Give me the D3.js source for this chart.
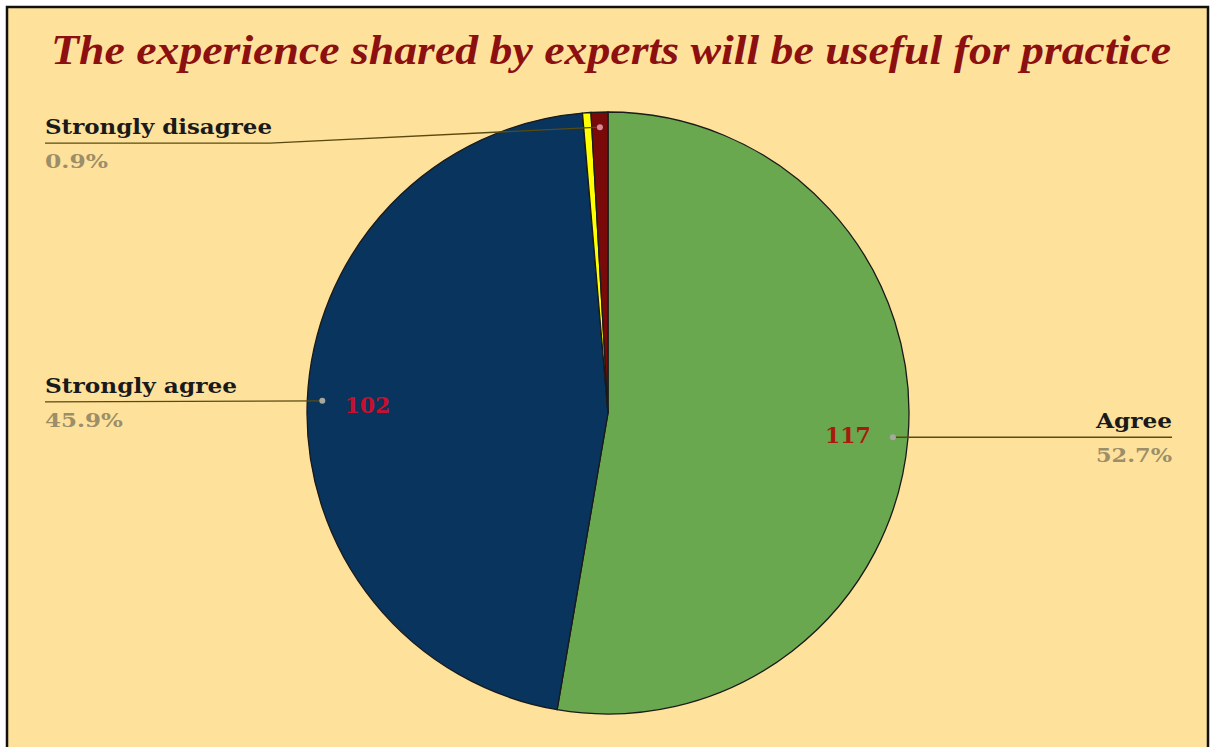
<!DOCTYPE html>
<html><head><meta charset="utf-8">
<script src="https://cdn.jsdelivr.net/npm/d3@7"></script>
<style>html,body{margin:0;padding:0;background:#fff;}svg{display:block;}</style>
</head><body>
<script>
const categories = ["Agree", "Strongly agree", "Disagree", "Strongly disagree"];
const values = [117, 102, 1, 2];
const colors = ["#6aa84f", "#08345e", "#ffff00", "#7a0a0a"];
const showLabel = [true, true, false, true];
const labelWidths = [76, 192, 0, 227];
const pctWidths = [76, 78, 0, 63];
const title = "The experience shared by experts will be useful for practice";

const W = 1212, H = 747;
const svg = d3.select("body").append("svg").attr("width", W).attr("height", H);
svg.append("rect").attr("x", 0).attr("y", 0).attr("width", W).attr("height", H).attr("fill", "#ffffff");
svg.append("rect").attr("x", 7).attr("y", 7).attr("width", 1201).attr("height", 760)
  .attr("fill", "#fee29c").attr("stroke", "#111").attr("stroke-width", 2.5);

svg.append("text").attr("x", 611).attr("y", 64).attr("text-anchor", "middle")
  .attr("font-family", "Liberation Serif, serif").attr("font-weight", "bold").attr("font-style", "italic")
  .attr("font-size", 42).attr("fill", "#8c1010")
  .attr("textLength", 1120).attr("lengthAdjust", "spacingAndGlyphs").text(title);

const cx = 608, cy = 413, r = 301;
const total = d3.sum(values);
const data = categories.map((c, i) => ({cat: c, value: values[i], color: colors[i], show: showLabel[i], lw: labelWidths[i], pw: pctWidths[i]}));
const pie = d3.pie().value(d => d.value).sort(null);
const arcs = pie(data);
const arc = d3.arc().innerRadius(0).outerRadius(r);
const g = svg.append("g").attr("transform", `translate(${cx},${cy})`);
g.selectAll("path").data(arcs).join("path").attr("d", arc)
  .attr("fill", d => d.data.color).attr("stroke", "#1a1a1a").attr("stroke-width", 1.3);

const pt = (a, rr) => [Math.sin(a) * rr, -Math.cos(a) * rr];
const fmt = d3.format(".1f");

// value labels
arcs.forEach(a => {
  if (a.data.value < 10) return;
  const m = (a.startAngle + a.endAngle) / 2;
  const p = pt(m, r * 0.8);
  g.append("text").attr("x", p[0]).attr("y", p[1] + 4).attr("text-anchor", "middle")
    .attr("dominant-baseline", "middle")
    .attr("font-family", "DejaVu Serif, serif").attr("font-weight", "bold").attr("font-size", 22)
    .attr("textLength", 46).attr("lengthAdjust", "spacingAndGlyphs")
    .attr("fill", a.index === 0 ? "#a81b0c" : "#c8102e").text(a.data.value);
});

// outside labels with leaders
arcs.forEach(a => {
  if (!a.data.show) return;
  const m = (a.startAngle + a.endAngle) / 2;
  const p = pt(m, r * 0.95);
  const ax = cx + p[0], ay = cy + p[1];
  const right = p[0] > 0;
  const ly = right ? ay : (a.data.value < 10 ? ay + 16 : ay + 1);
  const x0 = right ? 1172 : 45;
  const pts = right ? [[ax, ay], [x0, ly]]
    : (a.data.value < 10 ? [[ax, ay], [270, ly], [x0, ly]] : [[ax, ay], [x0, ly]]);
  svg.append("path").attr("d", d3.line()(pts)).attr("fill", "none")
    .attr("stroke", "#5a4a10").attr("stroke-width", 1.3);
  svg.append("circle").attr("cx", ax).attr("cy", ay).attr("r", 3)
    .attr("fill", a.data.value < 10 ? "#d88a9a" : "#a8a8a0");
  svg.append("text").attr("x", x0).attr("y", ly - 9).attr("text-anchor", right ? "end" : "start")
    .attr("font-family", "DejaVu Serif, serif").attr("font-weight", "bold").attr("font-size", 20)
    .attr("textLength", a.data.lw).attr("lengthAdjust", "spacingAndGlyphs")
    .attr("fill", "#1a1a1a").text(a.data.cat);
  svg.append("text").attr("x", x0).attr("y", ly + 25).attr("text-anchor", right ? "end" : "start")
    .attr("font-family", "DejaVu Serif, serif").attr("font-weight", "bold").attr("font-size", 18)
    .attr("textLength", a.data.pw).attr("lengthAdjust", "spacingAndGlyphs")
    .attr("fill", "#9c8e68").text(fmt(a.data.value / total * 100) + "%");
});
</script>
</body></html>
